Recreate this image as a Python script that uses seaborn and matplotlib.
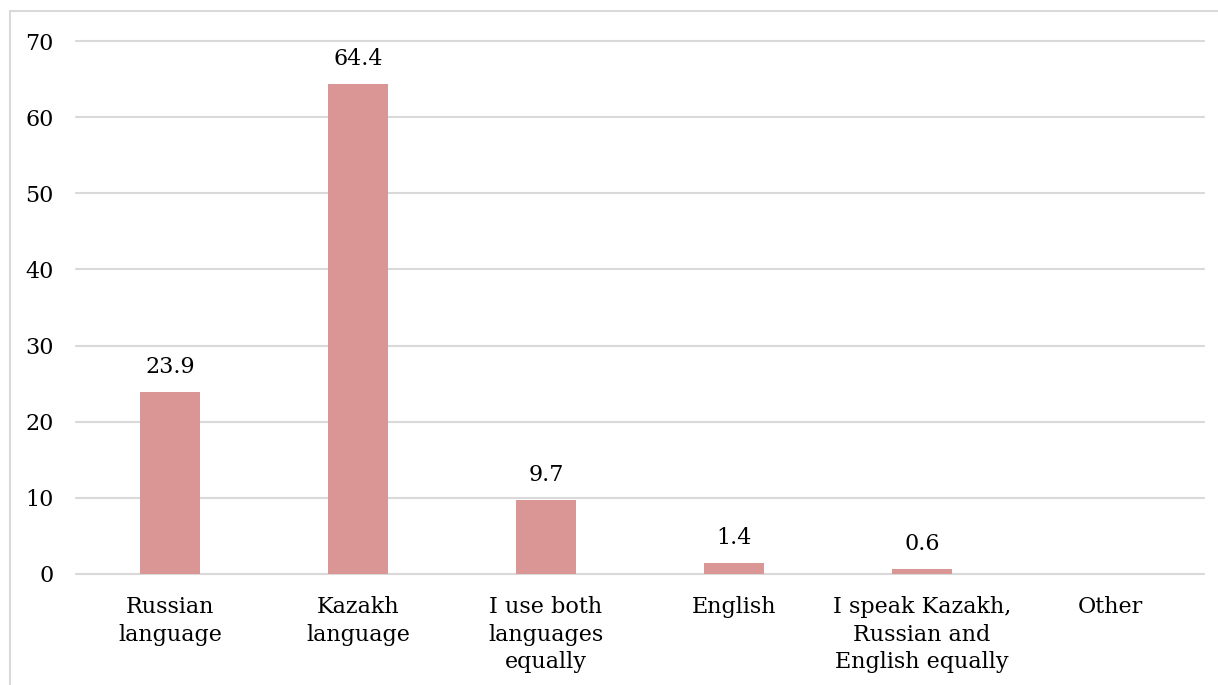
import matplotlib
matplotlib.use("Agg")
import matplotlib.pyplot as plt
import seaborn as sns
import pandas as pd
from matplotlib.patches import Rectangle

categories = ["Russian\nlanguage", "Kazakh\nlanguage", "I use both\nlanguages\nequally",
              "English", "I speak Kazakh,\nRussian and\nEnglish equally", "Other"]
values = [23.9, 64.4, 9.7, 1.4, 0.6, None]
labels = ["23.9", "64.4", "9.7", "1.4", "0.6", ""]
yticks = [0, 10, 20, 30, 40, 50, 60, 70]

sns.set_theme(style="white")
plt.rcParams['font.family'] = ['DejaVu Serif']

df = pd.DataFrame({"cat": categories, "val": [v if v is not None else 0 for v in values]})

fig = plt.figure(figsize=(12.18, 6.85), dpi=100)
ax = fig.add_axes([76/1218, 111/685, 1128/1218, 533/685])

sns.barplot(data=df, x="cat", y="val", color="#d99694", saturation=1, width=0.314,
            ax=ax, zorder=3, edgecolor="none", linewidth=0)

ax.set_ylim(0, 70)
ax.set_xlim(-0.5, len(categories) - 0.5)
ax.set_yticks(yticks)
ax.set_yticklabels([str(t) for t in yticks], fontsize=16, color="black")
ax.set_xticks(range(len(categories)))
ax.set_xticklabels(categories, fontsize=16, color="black", linespacing=1.33, va="top")
ax.set_xlabel("")
ax.set_ylabel("")
ax.grid(axis="y", color="#d9d9d9", linewidth=1.5, zorder=0)
for gl in ax.get_ygridlines():
    gl.set_clip_on(False)
for s in ax.spines.values():
    s.set_visible(False)
ax.tick_params(axis="both", length=0)
ax.tick_params(axis="y", pad=16)
ax.tick_params(axis="x", pad=16)

for i, (v, lab) in enumerate(zip(values, labels)):
    if v is not None:
        ax.annotate(lab, (i, v), xytext=(0, 18), textcoords="offset points",
                    ha="center", va="center", fontsize=16, color="black")

fig.patches.append(Rectangle((10/1218, -0.1), 1.2, 1 - 11/685 + 0.1, transform=fig.transFigure,
                             fill=False, edgecolor="#d9d9d9", linewidth=1.5))

fig.savefig("out.png", dpi=100, facecolor="white")
